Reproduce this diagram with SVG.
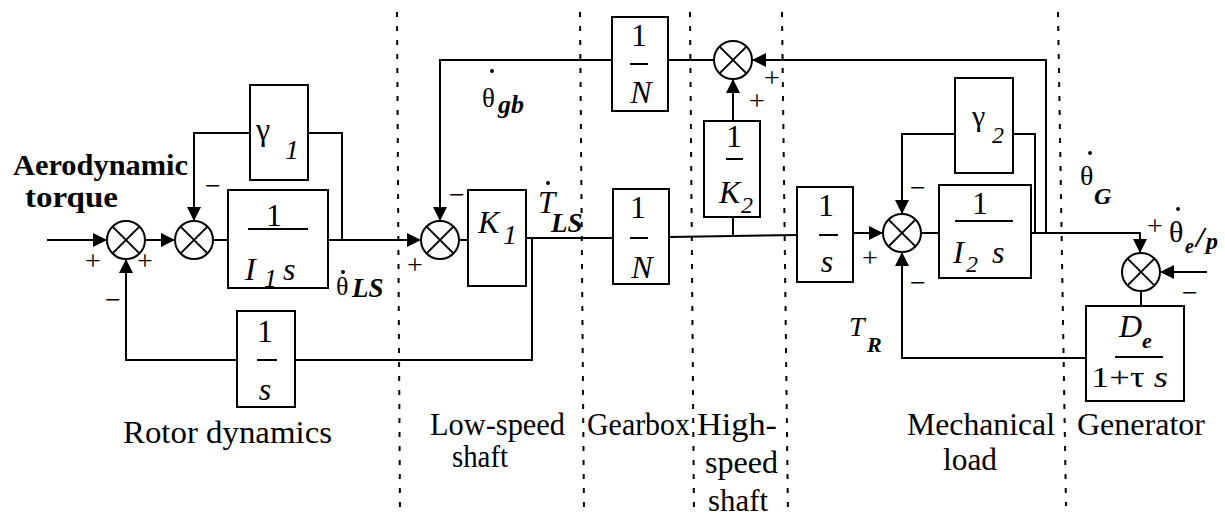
<svg xmlns="http://www.w3.org/2000/svg" width="1225" height="516" viewBox="0 0 1225 516" font-family="Liberation Serif, Tinos, Times New Roman, DejaVu Serif, serif">
<style>
text{font-family:"Liberation Serif",Tinos,"Times New Roman","DejaVu Serif",serif;fill:#000}
.box{fill:#fff;stroke:#000;stroke-width:2}
.sum circle{fill:#fff;stroke:#000;stroke-width:2}
.sum line{stroke:#000;stroke-width:2}
.wire{fill:none;stroke:#000;stroke-width:2}
.dash{stroke:#000;stroke-width:2;stroke-dasharray:5 9}
.lbl{font-size:31px}
.num{font-size:32px;text-anchor:middle}
.it{font-style:italic}
.sub{font-style:italic;font-weight:bold}
.sign{font-size:28px;text-anchor:middle}
.frac{stroke:#000;stroke-width:2}
</style>
<defs>
<marker id="arr" markerUnits="userSpaceOnUse" markerWidth="14" markerHeight="14" refX="14" refY="7" orient="auto">
<path d="M0,0 L14,7 L0,14 Z" fill="#000"/>
</marker>
</defs>
<rect width="1225" height="516" fill="#fff"/>

<g id="dividers">
<line class="dash" x1="397" y1="12" x2="400" y2="516"/>
<line class="dash" x1="580" y1="12" x2="584" y2="516"/>
<line class="dash" x1="690" y1="12" x2="694" y2="516"/>
<line class="dash" x1="782" y1="12" x2="788" y2="516"/>
<line class="dash" x1="1058" y1="12" x2="1066" y2="506"/>
</g>

<g id="connectors">
<path class="wire" d="M47,240 H107" marker-end="url(#arr)"/>
<path class="wire" d="M145,240 H175" marker-end="url(#arr)"/>
<path class="wire" d="M213,240 H228"/>
<path class="wire" d="M328,240 H421" marker-end="url(#arr)"/>
<path class="wire" d="M342,240 V133 H308"/>
<path class="wire" d="M250,133 H194 V221" marker-end="url(#arr)"/>
<path class="wire" d="M459,240 H468"/>
<path class="wire" d="M526,238 H613"/>
<path class="wire" d="M532,238 V360 H295"/>
<path class="wire" d="M237,360 H126 V259" marker-end="url(#arr)"/>
<path class="wire" d="M612,60 H440 V221" marker-end="url(#arr)"/>
<path class="wire" d="M668,60 H714"/>
<path class="wire" d="M733,121 V79" marker-end="url(#arr)"/>
<path class="wire" d="M669,237 L797,235"/>
<path class="wire" d="M733,236 V217"/>
<path class="wire" d="M1046,233 V60 H752" marker-end="url(#arr)"/>
<path class="wire" d="M853,233 H883" marker-end="url(#arr)"/>
<path class="wire" d="M921,233 H939"/>
<path class="wire" d="M1031,233 H1140 V253" marker-end="url(#arr)"/>
<path class="wire" d="M1035,233 V134 H1013"/>
<path class="wire" d="M955,134 H902 V214" marker-end="url(#arr)"/>
<path class="wire" d="M1086,358 H902 V252" marker-end="url(#arr)"/>
<path class="wire" d="M1207,272 H1160" marker-end="url(#arr)"/>
<path class="wire" d="M1141,291 V306"/>
</g>

<g id="sum1" class="sum">
<circle cx="126" cy="240" r="19"/>
<line x1="112.6" y1="226.6" x2="139.4" y2="253.4"/><line x1="139.4" y1="226.6" x2="112.6" y2="253.4"/>
</g>
<g id="sum2" class="sum">
<circle cx="194" cy="240" r="19"/>
<line x1="180.6" y1="226.6" x2="207.4" y2="253.4"/><line x1="207.4" y1="226.6" x2="180.6" y2="253.4"/>
</g>
<g id="sum3" class="sum">
<circle cx="440" cy="240" r="19"/>
<line x1="426.6" y1="226.6" x2="453.4" y2="253.4"/><line x1="453.4" y1="226.6" x2="426.6" y2="253.4"/>
</g>
<g id="sum-top" class="sum">
<circle cx="733" cy="60" r="19"/>
<line x1="719.6" y1="46.6" x2="746.4" y2="73.4"/><line x1="746.4" y1="46.6" x2="719.6" y2="73.4"/>
</g>
<g id="sum4" class="sum">
<circle cx="902" cy="233" r="19"/>
<line x1="888.6" y1="219.6" x2="915.4" y2="246.4"/><line x1="915.4" y1="219.6" x2="888.6" y2="246.4"/>
</g>
<g id="sum5" class="sum">
<circle cx="1141" cy="272" r="19"/>
<line x1="1127.6" y1="258.6" x2="1154.4" y2="285.4"/><line x1="1154.4" y1="258.6" x2="1127.6" y2="285.4"/>
</g>

<g id="gamma1">
<rect class="box" x="250" y="85" width="58" height="95"/>
<text x="256" y="140" font-size="32">γ</text>
<text x="285" y="159" font-size="28" class="it">1</text>
</g>
<g id="inertia1">
<rect class="box" x="228" y="190" width="100" height="98"/>
<text class="num" x="274" y="226" font-size="30">1</text>
<line class="frac" x1="248" y1="229" x2="308" y2="229"/>
<text class="it" x="245" y="280" font-size="32">I</text>
<text class="it" x="264" y="287" font-size="26">1</text>
<text class="it" x="283" y="280" font-size="32">s</text>
</g>
<g id="K1">
<rect class="box" x="468" y="190" width="58" height="96"/>
<text class="it" x="478" y="233" font-size="32">K</text>
<text class="it" x="503" y="244" font-size="28">1</text>
</g>
<g id="gear-top">
<rect class="box" x="612" y="17" width="56" height="94"/>
<text class="num" x="639" y="46">1</text>
<line class="frac" x1="630" y1="64" x2="648" y2="64"/>
<text class="num it" x="641" y="103">N</text>
</g>
<g id="gear-bottom">
<rect class="box" x="613" y="189" width="56" height="95"/>
<text class="num" x="638" y="218">1</text>
<line class="frac" x1="630" y1="238" x2="648" y2="238"/>
<text class="num it" x="642" y="278">N</text>
</g>
<g id="K2">
<rect class="box" x="704" y="121" width="56" height="96"/>
<text class="num" x="734" y="147">1</text>
<line class="frac" x1="726" y1="159" x2="743" y2="159"/>
<text class="it" x="719" y="203" font-size="32">K</text>
<text x="741" y="213" font-size="24" class="it">2</text>
</g>
<g id="integrator-hs">
<rect class="box" x="797" y="187" width="56" height="95"/>
<text class="num" x="826" y="216">1</text>
<line class="frac" x1="819" y1="235" x2="838" y2="235"/>
<text class="num it" x="827" y="272">s</text>
</g>
<g id="gamma2">
<rect class="box" x="955" y="78" width="58" height="95"/>
<text x="972" y="126" font-size="30">γ</text>
<text x="992" y="143" font-size="24" class="it">2</text>
</g>
<g id="inertia2">
<rect class="box" x="939" y="185" width="92" height="93"/>
<text class="num" x="980" y="214" font-size="30">1</text>
<line class="frac" x1="955" y1="221" x2="1013" y2="221"/>
<text class="it" x="953" y="263" font-size="32">I</text>
<text class="it" x="966" y="272" font-size="24">2</text>
<text class="it" x="992" y="263" font-size="32">s</text>
</g>
<g id="generator">
<rect class="box" x="1086" y="306" width="98" height="95"/>
<text class="it" x="1119" y="337" font-size="32">D</text>
<text class="sub" x="1142" y="348" font-size="22">e</text>
<line class="frac" x1="1115" y1="357" x2="1163" y2="357"/>
<text x="1091" y="387" font-size="30" textLength="77" lengthAdjust="spacingAndGlyphs">1+τ <tspan class="it">s</tspan></text>
</g>
<g id="integrator-rotor">
<rect class="box" x="237" y="311" width="58" height="96"/>
<text class="num" x="265" y="342">1</text>
<line class="frac" x1="257" y1="360" x2="277" y2="360"/>
<text class="num it" x="265" y="400">s</text>
</g>

<g id="signs">
<text class="sign" x="93" y="270">+</text>
<text class="sign" x="145" y="270">+</text>
<text class="sign" x="113" y="309">−</text>
<text class="sign" x="213" y="195">−</text>
<text class="sign" x="457" y="204">−</text>
<text class="sign" x="415" y="274">+</text>
<text class="sign" x="772" y="87">+</text>
<text class="sign" x="757" y="110">+</text>
<text class="sign" x="918" y="197">−</text>
<text class="sign" x="870" y="267">+</text>
<text class="sign" x="918" y="292">−</text>
<text class="sign" x="1155" y="235">+</text>
<text class="sign" x="1190" y="302">−</text>
</g>

<g id="signal-labels">
<circle cx="343" cy="272" r="2"/>
<text x="336" y="295" font-size="26">θ</text>
<text class="sub" x="352" y="297" font-size="27">LS</text>
<circle cx="492" cy="71" r="2"/>
<text x="482" y="107" font-size="27">θ</text>
<text class="sub" x="498" y="113" font-size="26">gb</text>
<circle cx="548" cy="183" r="2"/>
<text class="it" x="538" y="213" font-size="31">T</text>
<text class="sub" x="551" y="232" font-size="27">LS</text>
<circle cx="1090" cy="153" r="2"/>
<text x="1080" y="185" font-size="28">θ</text>
<text class="sub" x="1094" y="204" font-size="24">G</text>
<text class="it" x="849" y="336" font-size="28">T</text>
<text class="sub" x="867" y="352" font-size="22">R</text>
<circle cx="1178" cy="209" r="2"/>
<text x="1169" y="242" font-size="30">θ</text>
<text class="sub" x="1185" y="253" font-size="20">e</text>
<text class="sub" x="1196" y="247" font-size="30">/</text>
<text class="sub" x="1206" y="249" font-size="24">p</text>
</g>

<g id="section-labels">
<text x="13" y="175" font-size="30" font-weight="bold" textLength="175" lengthAdjust="spacingAndGlyphs">Aerodynamic</text>
<text x="25" y="207" font-size="30" font-weight="bold" textLength="93" lengthAdjust="spacingAndGlyphs">torque</text>
<text class="lbl" x="123" y="443" textLength="209" lengthAdjust="spacingAndGlyphs">Rotor dynamics</text>
<text class="lbl" x="430" y="435" textLength="135" lengthAdjust="spacingAndGlyphs">Low-speed</text>
<text class="lbl" x="452" y="467" textLength="56" lengthAdjust="spacingAndGlyphs">shaft</text>
<text class="lbl" x="587" y="435" textLength="103" lengthAdjust="spacingAndGlyphs">Gearbox</text>
<text class="lbl" x="697" y="435" textLength="80" lengthAdjust="spacingAndGlyphs">High-</text>
<text class="lbl" x="705" y="473" textLength="73" lengthAdjust="spacingAndGlyphs">speed</text>
<text class="lbl" x="708" y="511" textLength="60" lengthAdjust="spacingAndGlyphs">shaft</text>
<text class="lbl" x="907" y="435" textLength="148" lengthAdjust="spacingAndGlyphs">Mechanical</text>
<text class="lbl" x="943" y="470" textLength="54" lengthAdjust="spacingAndGlyphs">load</text>
<text class="lbl" x="1077" y="435" textLength="128" lengthAdjust="spacingAndGlyphs">Generator</text>
</g>
</svg>
